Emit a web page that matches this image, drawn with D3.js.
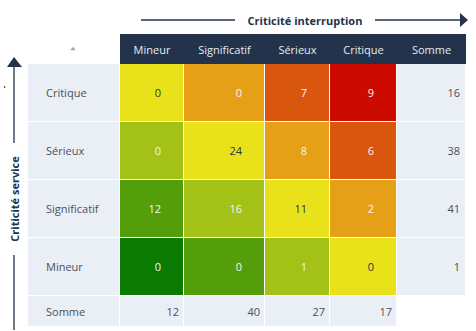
<!DOCTYPE html>
<html><head><meta charset="utf-8">
<script src="https://cdn.jsdelivr.net/npm/d3@7"></script>
<style>
html,body{margin:0;padding:0;background:#fff;}
svg{display:block;}
text{font-family:"Open Sans","Noto Sans",sans-serif;}
</style></head>
<body>
<svg id="c" width="476" height="331"></svg>
<script>
// ---- data ----
const colCats = ["Mineur", "Significatif", "Sérieux", "Critique"];
const rowCats = ["Critique", "Sérieux", "Significatif", "Mineur"];
const values = [
  [0, 0, 7, 9],
  [0, 24, 8, 6],
  [12, 16, 11, 2],
  [0, 0, 1, 0]
];
const rowSums = [16, 38, 41, 1];
const colSums = [12, 40, 27, 17];
const sumLabel = "Somme";
const xTitle = "Criticité interruption";
const yTitle = "Criticité service";

// ---- layout ----
const svg = d3.select("#c");
const colWidths = [92, 64, 81, 65, 67, 69];
const colKeys = ["__label"].concat(colCats, [sumLabel]);
const starts = Array.from(d3.cumsum([28].concat(colWidths.slice(0, -1))));
const x = d3.scaleOrdinal().domain(colKeys).range(starts);
const w = d3.scaleOrdinal().domain(colKeys).range(colWidths);
const y = d3.scaleBand().domain(rowCats).range([64, 296]).paddingInner(0);
const headerY = 34, headerH = 30, sumY = 296, sumH = 30;

const levelColor = d3.scaleOrdinal().domain([0,1,2,3,4,5,6])
  .range(["#0b7a02", "#559e0b", "#a3c117", "#e9e21b", "#e5a018", "#d9560f", "#cc0a00"]);

const navy = "#22334b", light = "#eaeef5", labelCol = "#4b5060";

// header background
svg.append("rect").attr("x", x("Mineur")).attr("y", headerY)
  .attr("width", x(sumLabel) + w(sumLabel) - x("Mineur")).attr("height", headerH).attr("fill", navy);
svg.selectAll("text.hdr").data(colCats.concat([sumLabel])).join("text")
  .attr("class", "hdr")
  .attr("x", d => x(d) + w(d) / 2).attr("y", headerY + headerH / 2)
  .attr("text-anchor", "middle").attr("dominant-baseline", "central")
  .attr("font-size", 11).attr("fill", "#e6ebf2").text(d => d);

// sort icon
svg.append("path").attr("d", d3.symbol(d3.symbolTriangle, 14)())
  .attr("transform", `translate(${x("__label") + 45},${headerY + 15}) scale(1,0.7)`)
  .attr("fill", "#a0a4ab");

// row labels
const rows = svg.selectAll("g.row").data(rowCats).join("g").attr("class", "row");
rows.append("rect").attr("x", x("__label")).attr("y", d => y(d))
  .attr("width", w("__label") - 1).attr("height", y.bandwidth() - 1).attr("fill", light);
rows.append("text").attr("x", x("__label") + 18).attr("y", d => y(d) + y.bandwidth() / 2 - 1)
  .attr("dominant-baseline", "central").attr("font-size", 11).attr("fill", labelCol).text(d => d);

// cells
const cells = [];
rowCats.forEach((r, i) => colCats.forEach((c, j) => {
  cells.push({ r, c, v: values[i][j], level: (rowCats.length - 1 - i) + j });
}));
const cg = svg.selectAll("g.cell").data(cells).join("g").attr("class", "cell");
cg.append("rect").attr("x", d => x(d.c)).attr("y", d => y(d.r))
  .attr("width", d => w(d.c) - 1).attr("height", y.bandwidth() - 1)
  .attr("fill", d => levelColor(d.level));
cg.append("text").attr("x", d => x(d.c) + w(d.c) - 23).attr("y", d => y(d.r) + y.bandwidth() / 2 - 1)
  .attr("text-anchor", "end").attr("dominant-baseline", "central").attr("font-size", 11)
  .attr("fill", d => d.level === 3 ? "#333" : "#f4f4f0").text(d => d.v);

// row sums
const rs = svg.selectAll("g.rs").data(rowCats.map((r, i) => ({ r, v: rowSums[i] }))).join("g").attr("class", "rs");
rs.append("rect").attr("x", x(sumLabel)).attr("y", d => y(d.r))
  .attr("width", w(sumLabel) - 1).attr("height", y.bandwidth() - 1).attr("fill", light);
rs.append("text").attr("x", x(sumLabel) + w(sumLabel) - 6).attr("y", d => y(d.r) + y.bandwidth() / 2 - 1)
  .attr("text-anchor", "end").attr("dominant-baseline", "central").attr("font-size", 11)
  .attr("fill", labelCol).text(d => d.v);

// sum row
svg.append("rect").attr("x", x("__label")).attr("y", sumY).attr("width", w("__label") - 1)
  .attr("height", sumH).attr("fill", light);
svg.append("text").attr("x", x("__label") + 18).attr("y", sumY + sumH / 2)
  .attr("dominant-baseline", "central").attr("font-size", 11).attr("fill", labelCol).text(sumLabel);
const cs = svg.selectAll("g.cs").data(colCats.map((c, j) => ({ c, v: colSums[j] }))).join("g").attr("class", "cs");
cs.append("rect").attr("x", d => x(d.c)).attr("y", sumY)
  .attr("width", d => w(d.c) - 1).attr("height", sumH).attr("fill", light);
cs.append("text").attr("x", d => x(d.c) + w(d.c) - 5).attr("y", sumY + sumH / 2)
  .attr("text-anchor", "end").attr("dominant-baseline", "central").attr("font-size", 11)
  .attr("fill", labelCol).text(d => d.v);

// top axis title with arrow
svg.append("line").attr("x1", 141).attr("x2", 235).attr("y1", 20).attr("y2", 20)
  .attr("stroke", navy).attr("stroke-width", 1.3);
svg.append("line").attr("x1", 375).attr("x2", 461).attr("y1", 20).attr("y2", 20)
  .attr("stroke", navy).attr("stroke-width", 1.3);
svg.append("path").attr("d", "M460,13 L468,20 L460,27 Z").attr("fill", navy);
svg.append("text").attr("x", 305).attr("y", 20).attr("text-anchor", "middle")
  .attr("dominant-baseline", "central").attr("font-size", 11).attr("font-weight", "bold")
  .attr("fill", navy).text(xTitle);

// left axis title with arrow
svg.append("path").attr("d", "M7,67 L14,57 L22,67 Z").attr("fill", navy);
svg.append("line").attr("x1", 14).attr("x2", 14).attr("y1", 66).attr("y2", 143)
  .attr("stroke", navy).attr("stroke-width", 1.3);
svg.append("line").attr("x1", 14).attr("x2", 14).attr("y1", 255).attr("y2", 330)
  .attr("stroke", navy).attr("stroke-width", 1.3);
svg.append("text").attr("transform", "translate(14,199) rotate(-90)").attr("text-anchor", "middle")
  .attr("dominant-baseline", "central").attr("font-size", 11).attr("font-weight", "bold")
  .attr("fill", navy).text(yTitle);

// small stray tick mark seen at left
svg.append("rect").attr("x", 4).attr("y", 86).attr("width", 1.2).attr("height", 2).attr("fill", "#6a4a30");
</script>
</body></html>
